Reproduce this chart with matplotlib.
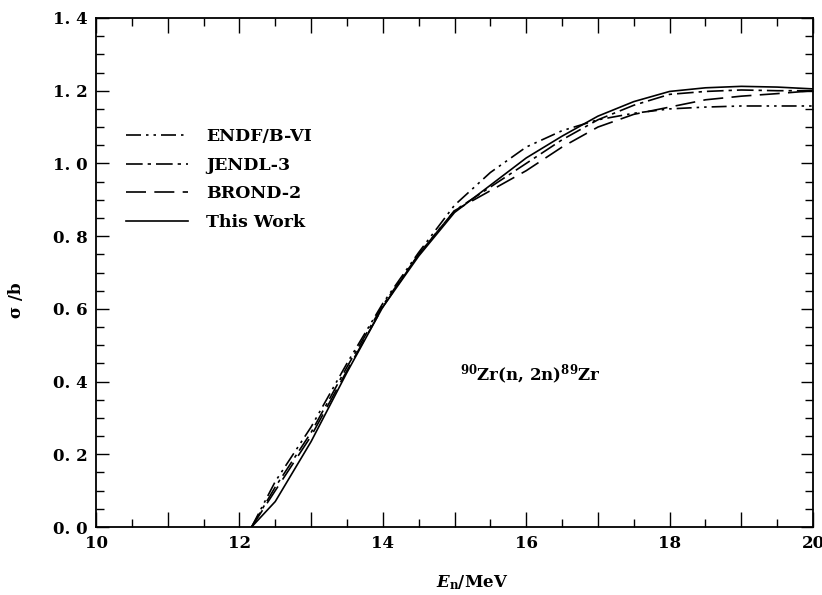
import matplotlib
matplotlib.use("Agg")
import matplotlib.pyplot as plt
from matplotlib.ticker import MultipleLocator, FuncFormatter

# incident neutron energy (MeV) and cross sections (b)
energy = [12.17, 12.5, 13.0, 13.5, 14.0, 14.5, 15.0, 15.5, 16.0, 16.5,
          17.0, 17.5, 18.0, 18.5, 19.0, 19.5, 20.0]
endf = [0, 0.125, 0.275, 0.45, 0.615, 0.755, 0.885, 0.975, 1.045, 1.09,
        1.12, 1.138, 1.15, 1.155, 1.158, 1.158, 1.158]
jendl = [0, 0.11, 0.26, 0.44, 0.61, 0.75, 0.87, 0.935, 1.0, 1.065,
         1.12, 1.16, 1.19, 1.198, 1.202, 1.2, 1.2]
brond = [0, 0.10, 0.25, 0.43, 0.605, 0.75, 0.87, 0.925, 0.98, 1.045,
         1.10, 1.135, 1.155, 1.175, 1.185, 1.192, 1.20]
this_work = [0, 0.07, 0.235, 0.425, 0.605, 0.745, 0.865, 0.94, 1.015, 1.075,
             1.13, 1.17, 1.198, 1.208, 1.212, 1.21, 1.205]

labels = ["ENDF/B-VI", "JENDL-3", "BROND-2", "This Work"]

plt.rcParams["font.family"] = ["DejaVu Serif"]
plt.rcParams["font.weight"] = "bold"
plt.rcParams["mathtext.fontset"] = "dejavuserif"

fig = plt.figure(figsize=(8.22, 5.95), dpi=100)
ax = fig.add_axes([96 / 822, 1 - 527 / 595, 717 / 822, 509 / 595])

lw = 1.2
ax.plot(energy, endf, color="black", lw=lw, ls=(0, (9, 3, 1.5, 3, 1.5, 3)), label=labels[0])
ax.plot(energy, jendl, color="black", lw=lw, ls=(0, (10, 3, 2, 3)), label=labels[1])
ax.plot(energy, brond, color="black", lw=lw, ls=(0, (12, 5)), label=labels[2])
ax.plot(energy, this_work, color="black", lw=lw, ls="-", label=labels[3])

ax.set_xlim(10, 20)
ax.set_ylim(0, 1.4)

# long ticks every 1 MeV, labels only on even energies
ax.xaxis.set_major_locator(MultipleLocator(1))
ax.xaxis.set_minor_locator(MultipleLocator(0.5))
ax.xaxis.set_major_formatter(FuncFormatter(lambda v, p: f"{v:.0f}" if round(v) % 2 == 0 else ""))
ax.yaxis.set_major_locator(MultipleLocator(0.2))
ax.yaxis.set_minor_locator(MultipleLocator(0.05))
ax.yaxis.set_major_formatter(FuncFormatter(lambda v, p: f"{v:.1f}".replace(".", ". ")))

ax.tick_params(which="both", direction="in", top=True, right=True, labelsize=12, pad=6)
ax.tick_params(axis="x", which="major", length=11, width=1)
ax.tick_params(axis="x", which="minor", length=6, width=1)
ax.tick_params(axis="y", which="major", length=9, width=1)
ax.tick_params(axis="y", which="minor", length=6, width=1)
for s in ax.spines.values():
    s.set_linewidth(1.3)

ax.set_xlabel("$\\mathit{E}_\\mathrm{n}$/MeV", fontsize=12, fontweight="bold")
ax.set_ylabel("σ /b", fontsize=12, fontweight="bold")
ax.xaxis.set_label_coords(0.524, -0.09)
ax.yaxis.set_label_coords(-0.099, 0.446)

ax.text(15.08, 0.418, "$^{90}$Zr(n, 2n)$^{89}$Zr", fontsize=12, fontweight="bold", va="center")

ax.legend(loc="upper left", bbox_to_anchor=(0.02, 0.815), frameon=False, fontsize=12.5,
          handlelength=3.6, handletextpad=1.0, labelspacing=0.68)

fig.savefig("out.png", dpi=100)
